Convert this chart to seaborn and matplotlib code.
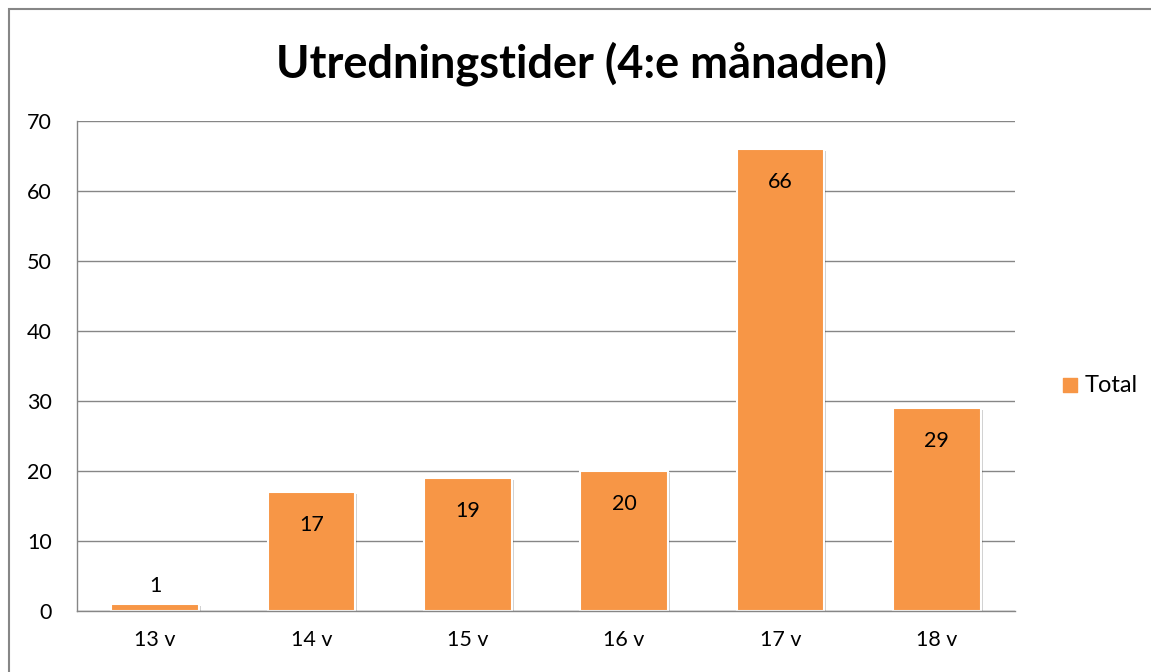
import matplotlib
matplotlib.use("Agg")
import matplotlib.pyplot as plt
import matplotlib.patheffects as pe
import pandas as pd
import seaborn as sns

# chart data
weeks = ["13 v", "14 v", "15 v", "16 v", "17 v", "18 v"]
totals = [1, 17, 19, 20, 66, 29]
series_name = "Total"
title = "Utredningstider (4:e månaden)"

bar_color = "#F79646"
grid_color = "#868686"

sns.set_theme(style="white")
plt.rcParams["font.family"] = ["Lato", "DejaVu Sans"]
plt.rcParams["text.color"] = "black"

df = pd.DataFrame({"week": weeks, "value": totals, "series": series_name})

fig = plt.figure(figsize=(11.51, 6.72), dpi=100)
ax = fig.add_axes([0.0669, 0.0908, 0.8149, 0.7292])

sns.barplot(data=df, x="week", y="value", hue="series", palette=[bar_color],
            saturation=1, width=0.56, edgecolor="white", linewidth=1.5, ax=ax, legend=False)

for patch in ax.patches:
    patch.set_path_effects([pe.SimplePatchShadow(offset=(1.5, -1.5), alpha=0.18, shadow_rgbFace="black"),
                            pe.Normal()])

ax.set_ylim(0, 70)
ax.set_yticks(range(0, 71, 10))
ax.set_xlim(-0.5, len(weeks) - 0.5)
ax.yaxis.grid(True, color=grid_color, linewidth=1)
ax.set_axisbelow(True)
ax.set_xlabel("")
ax.set_ylabel("")
ax.tick_params(axis="both", length=0, labelsize=15.5, colors="black")
ax.tick_params(axis="x", pad=14)
ax.tick_params(axis="y", pad=18)

for side in ["top", "right"]:
    ax.spines[side].set_visible(False)
for side in ["left", "bottom"]:
    ax.spines[side].set_color(grid_color)
    ax.spines[side].set_linewidth(1)

# value labels
for i, v in enumerate(totals):
    if v < 5:
        ax.text(i, v + 1.1, str(v), ha="center", va="bottom", fontsize=15.5)
    else:
        ax.text(i, v - 3.3, str(v), ha="center", va="top", fontsize=15.5)

# legend
ax.scatter([], [], marker="s", s=100, color=bar_color, label=series_name)
fig.legend(*ax.get_legend_handles_labels(), loc="center left", bbox_to_anchor=(0.891, 0.427),
           frameon=False, fontsize=17, handletextpad=-0.4, markerscale=1)

fig.text(0.505, 0.905, title, ha="center", va="center", fontsize=32.5, fontweight="bold")

# outer chart border
fig.patches.append(plt.Rectangle((9 / 1151, -0.1), 1.2, (672 - 9) / 672 + 0.1,
                                 transform=fig.transFigure, fill=False,
                                 edgecolor=grid_color, linewidth=1.5))

fig.savefig("out.png", dpi=100)
